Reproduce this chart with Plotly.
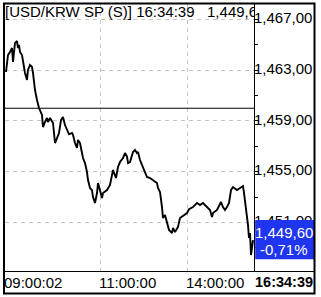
import plotly.graph_objects as go

# ---------------- data ----------------
seq = [1, 3, 5, 6, 7, 8, 9, 10, 12, 13, 14, 15, 17, 18, 20, 22, 23, 25, 27, 28,
       30, 32, 34, 37, 38, 40, 42, 43, 45, 48, 50, 52, 54, 56, 57, 58, 60, 62, 64, 67,
       68, 70, 72, 73, 75, 77, 78, 80, 82, 83, 85, 87, 88, 90, 92, 93, 95, 97, 98, 102,
       105, 107, 108, 111, 113, 115, 117, 118, 120, 122, 123, 125, 128, 130, 132, 133, 135, 138, 140, 142,
       145, 148, 152, 153, 155, 157, 158, 160, 162, 164, 167, 168, 170, 172, 173, 175, 178, 182, 184, 188,
       192, 195, 198, 202, 205, 207, 208, 212, 214, 216, 218, 220, 222, 224, 226, 228, 232, 235, 238, 239,
       241, 243, 244, 245, 246, 247, 248]
price = [1462.86, 1464.20, 1464.44, 1464.59, 1464.75, 1463.65, 1464.83, 1465.15, 1465.30, 1464.75,
         1464.99, 1464.44, 1464.20, 1463.65, 1462.78, 1462.23, 1463.02, 1463.41, 1463.25, 1462.78,
         1461.44, 1460.65, 1460.02, 1459.47, 1458.52, 1458.92, 1459.23, 1458.92, 1459.23, 1458.84,
         1457.26, 1457.65, 1458.05, 1459.07, 1459.23, 1459.31, 1458.68, 1458.37, 1457.95, 1458.05,
         1457.90, 1457.26, 1456.87, 1457.50, 1457.26, 1456.47, 1456.08, 1455.68, 1454.97, 1454.34,
         1453.71, 1453.55, 1453.00, 1452.53, 1453.32, 1454.11, 1453.55, 1452.92, 1453.32, 1453.55,
         1453.95, 1454.58, 1455.13, 1454.50, 1455.37, 1455.76, 1455.92, 1456.08, 1456.47, 1456.20,
         1455.68, 1455.76, 1456.55, 1456.71, 1456.47, 1456.55, 1455.92, 1455.37, 1454.97, 1454.58,
         1454.50, 1454.34, 1454.11, 1453.71, 1453.40, 1452.21, 1451.35, 1451.58, 1450.95, 1450.40,
         1450.16, 1450.56, 1450.24, 1450.56, 1450.64, 1451.35, 1451.50, 1451.74, 1452.05, 1452.21,
         1452.53, 1452.37, 1452.53, 1452.21, 1451.98, 1451.42, 1451.74, 1451.98, 1452.37, 1452.61,
         1452.21, 1451.98, 1452.21, 1452.53, 1453.55, 1453.79, 1453.55, 1453.71, 1453.87, 1453.32,
         1452.21, 1450.79, 1449.77, 1450.16, 1448.43, 1449.14, 1449.60]

prev_close = 1460.0
y_ticks = [1467, 1463, 1459, 1455, 1451]
y_minor = [1465, 1461, 1457, 1453, 1449]
time_tick_seq = [0, 95, 182]
time_tick_text = ["09:00:02", "11:00:00", "14:00:00"]
last_time = "16:34:39"
symbol = "[USD/KRW SP (S)]"

# ---------------- helpers ----------------
W, H = 321, 297
def px(x):
    return x / W
def py(y):
    return 1 - y / H

def fmt(v):
    return f"{v:,.2f}".replace(".", ",")

last = price[-1]
pct = (last / prev_close - 1) * 100
pct_txt = f"{pct:.2f}%".replace(".", ",")

FONT = "Liberation Sans, Arial, sans-serif"
FS = 15
NB = "\u00a0"

main_x = [px(5), px(254)]
panel_x = [px(254), px(314)]
plot_y = [py(271), py(4)]
Y_LO, Y_HI = 1447.17, 1468.22
GRID = "#c4c4c4"

fig = go.Figure()

# price line
fig.add_trace(go.Scatter(x=seq, y=price, mode="lines",
                         line=dict(color="black", width=1.9),
                         xaxis="x", yaxis="y", hoverinfo="skip", showlegend=False))

# y tick labels (clipped inside right panel)
fig.add_trace(go.Scatter(x=[0] * len(y_ticks), y=y_ticks, mode="text",
                         text=[fmt(v) for v in y_ticks], textposition="middle right",
                         textfont=dict(family=FONT, size=FS, color="black"),
                         cliponaxis=True, xaxis="x2", yaxis="y2",
                         hoverinfo="skip", showlegend=False))

# header text (clipped at plot edge)
fig.add_trace(go.Scatter(x=[0], y=[0.966], mode="text",
                         text=[symbol + NB + last_time + NB * 3 + fmt(last)],
                         textposition="middle right",
                         textfont=dict(family=FONT, size=FS, color="black"),
                         cliponaxis=True, xaxis="x3", yaxis="y3",
                         hoverinfo="skip", showlegend=False))

annotations = []
for s, t in zip(time_tick_seq, time_tick_text):
    annotations.append(dict(x=s, xref="x", y=py(282), yref="paper", text=t, xshift=-3,
                            xanchor="left", yanchor="middle", showarrow=False,
                            font=dict(family=FONT, size=FS, color="black")))
annotations.append(dict(x=0.5, xref="x2 domain", y=py(282), yref="paper",
                        text="<b>" + last_time + "</b>", xanchor="center", yanchor="middle",
                        showarrow=False, font=dict(family=FONT, size=14.5, color="black")))
annotations.append(dict(x=0.5, xref="x2 domain", y=last, yref="y", yshift=8,
                        text=fmt(last), xanchor="center", yanchor="middle", showarrow=False,
                        font=dict(family=FONT, size=FS, color="white")))
annotations.append(dict(x=0.5, xref="x2 domain", y=last, yref="y", yshift=-9,
                        text=pct_txt, xanchor="center", yanchor="middle", showarrow=False,
                        font=dict(family=FONT, size=FS, color="white")))

shapes = [
    # previous close reference
    dict(type="line", xref="x domain", x0=0, x1=1, yref="y", y0=prev_close, y1=prev_close,
         line=dict(color="black", width=1.2), layer="above"),
    # last price box
    dict(type="rect", xref="x2 domain", x0=0.02, x1=1, yref="y", y0=last - 1.5, y1=last + 1.6,
         fillcolor="#1f35f0", line=dict(width=0), layer="above"),
    # outer frame
    dict(type="rect", xref="paper", yref="paper", x0=px(4), x1=px(314.5), y0=py(293.5), y1=py(3.5),
         line=dict(color="black", width=2), fillcolor="rgba(0,0,0,0)", layer="above"),
]

fig.update_layout(
    width=W, height=H, margin=dict(l=0, r=0, t=0, b=0),
    paper_bgcolor="white", plot_bgcolor="rgba(0,0,0,0)",
    showlegend=False,
    xaxis=dict(domain=main_x, range=[0, 249], anchor="y", tickvals=time_tick_seq[1:],
               showticklabels=False, ticks="", showgrid=True, gridcolor=GRID,
               griddash="4px,4px", gridwidth=1, zeroline=False,
               showline=True, linecolor="black", linewidth=1, fixedrange=True),
    yaxis=dict(domain=plot_y, range=[Y_LO, Y_HI], anchor="x", side="right",
               tickvals=y_ticks, showticklabels=False, ticks="outside", ticklen=4,
               tickcolor="black", tickwidth=1,
               minor=dict(tickvals=y_minor, ticks="outside", ticklen=3, tickcolor="black",
                          showgrid=False),
               showgrid=True, gridcolor=GRID, griddash="4px,4px", gridwidth=1,
               zeroline=False, showline=True, linecolor="black", linewidth=1, fixedrange=True),
    xaxis2=dict(domain=panel_x, range=[0, 1], anchor="y2", showticklabels=False, ticks="",
                showgrid=False, zeroline=False, showline=True, linecolor="black", linewidth=1),
    yaxis2=dict(domain=plot_y, range=[Y_LO, Y_HI], anchor="x2", visible=False),
    xaxis3=dict(overlaying="x", range=[0, 1], anchor="y3", visible=False),
    yaxis3=dict(overlaying="y", range=[0, 1], anchor="x3", visible=False),
    annotations=annotations, shapes=shapes,
)

fig.write_html("out.html")
